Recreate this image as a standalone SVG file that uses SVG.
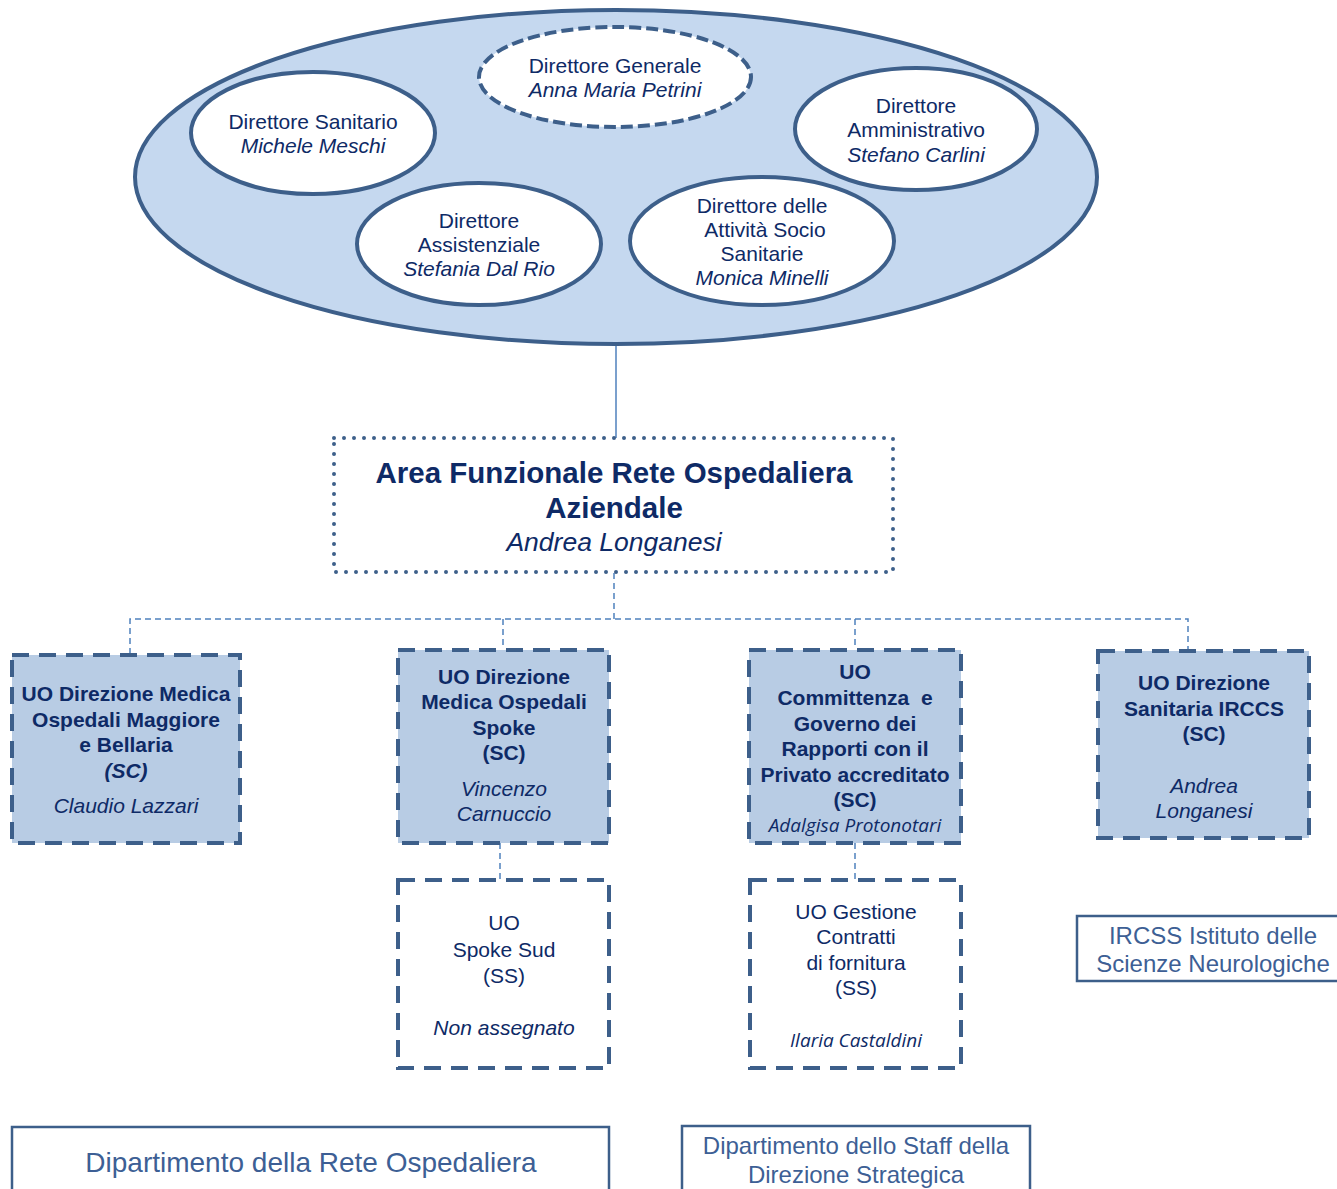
<svg xmlns="http://www.w3.org/2000/svg" width="1337" height="1189" viewBox="0 0 1337 1189">
<style>
.t{font-family:"Liberation Sans",Arial,sans-serif;fill:#0e2a66;text-anchor:middle}
.s19{font-size:21px}
.b{font-weight:bold}
.i{font-style:italic}
.c{font-family:"Open Sans","Liberation Sans",sans-serif;font-style:italic;font-size:19px}
.wh{fill:#ffffff;stroke:#3d5f8a;stroke-width:4}
.uo{fill:#b8cce4;stroke:#3d5f8a;stroke-width:4;stroke-dasharray:17 10}
.sub{fill:#ffffff;stroke:#3d5f8a;stroke-width:4;stroke-dasharray:17 10}
.con{fill:none;stroke:#4f81bd;stroke-width:1.5;stroke-dasharray:6 4}
.lab{fill:#ffffff;stroke:#3d5f8a;stroke-width:2.5}
.lt{font-family:"Liberation Sans",Arial,sans-serif;fill:#3d5f95;text-anchor:middle}
</style>
<rect width="1337" height="1189" fill="#ffffff"/>
<g id="connectors">
<line x1="616" y1="345" x2="616" y2="438" stroke="#4f81bd" stroke-width="1.5"/>
<path class="con" d="M614 573 V619 M130 654 V619 H1188 V650 M503 619 V649 M855 619 V649"/>
<path class="con" d="M500 843 V880 M855 843 V880"/>
</g>
<g id="direzione-strategica">
<ellipse cx="616" cy="177" rx="481" ry="167" fill="#c5d8ef" stroke="#3d5f8a" stroke-width="4"/>
</g>
<g id="direttore-generale">
<ellipse cx="615" cy="77" rx="136" ry="50" fill="#ffffff" stroke="#3d5f8a" stroke-width="4" stroke-dasharray="12 5"/>
<text class="t s19" x="615" y="73">Direttore Generale</text>
<text class="t s19 i" x="615" y="97">Anna Maria Petrini</text>
</g>
<g id="direttore-sanitario">
<ellipse class="wh" cx="313" cy="133" rx="122" ry="61"/>
<text class="t s19" x="313" y="129">Direttore Sanitario</text>
<text class="t s19 i" x="313" y="153">Michele Meschi</text>
</g>
<g id="direttore-amministrativo">
<ellipse class="wh" cx="916" cy="129" rx="121" ry="61"/>
<text class="t s19" x="916" y="113">Direttore</text>
<text class="t s19" x="916" y="137">Amministrativo</text>
<text class="t s19 i" x="916" y="162">Stefano Carlini</text>
</g>
<g id="direttore-assistenziale">
<ellipse class="wh" cx="479" cy="244" rx="122" ry="61"/>
<text class="t s19" x="479" y="228">Direttore</text>
<text class="t s19" x="479" y="252">Assistenziale</text>
<text class="t s19 i" x="479" y="276">Stefania Dal Rio</text>
</g>
<g id="direttore-socio-sanitarie">
<ellipse class="wh" cx="762" cy="241" rx="132" ry="64"/>
<text class="t s19" x="762" y="213">Direttore delle</text>
<text class="t s19" x="765" y="237">Attività Socio</text>
<text class="t s19" x="762" y="261">Sanitarie</text>
<text class="t s19 i" x="762" y="285">Monica Minelli</text>
</g>
<g id="area-funzionale">
<rect x="334" y="438" width="559" height="134" fill="#ffffff" stroke="#3d5f8a" stroke-width="4" stroke-dasharray="0 10" stroke-linecap="round"/>
<text class="t b" x="614" y="483" font-size="29.5">Area Funzionale Rete Ospedaliera</text>
<text class="t b" x="614" y="518" font-size="29.5">Aziendale</text>
<text class="t i" x="614" y="551" font-size="26.5">Andrea Longanesi</text>
</g>
<g id="uo-maggiore-bellaria">
<rect class="uo" x="12" y="655" width="228" height="188"/>
<text class="t s19 b" x="126" y="701">UO Direzione Medica</text>
<text class="t s19 b" x="126" y="727">Ospedali Maggiore</text>
<text class="t s19 b" x="126" y="752">e Bellaria</text>
<text class="t s19 b i" x="126" y="778">(SC)</text>
<text class="t s19 i" x="126" y="813">Claudio Lazzari</text>
</g>
<g id="uo-spoke">
<rect class="uo" x="398" y="650" width="211" height="193"/>
<text class="t s19 b" x="504" y="684">UO Direzione</text>
<text class="t s19 b" x="504" y="709">Medica Ospedali</text>
<text class="t s19 b" x="504" y="735">Spoke</text>
<text class="t s19 b" x="504" y="760">(SC)</text>
<text class="t s19 i" x="504" y="796">Vincenzo</text>
<text class="t s19 i" x="504" y="821">Carnuccio</text>
</g>
<g id="uo-committenza">
<rect class="uo" x="749" y="650" width="212" height="193"/>
<text class="t s19 b" x="855" y="679">UO</text>
<text class="t s19 b" x="855" y="705" xml:space="preserve">Committenza  e</text>
<text class="t s19 b" x="855" y="731">Governo dei</text>
<text class="t s19 b" x="855" y="756">Rapporti con il</text>
<text class="t s19 b" x="855" y="782">Privato accreditato</text>
<text class="t s19 b" x="855" y="807">(SC)</text>
<text class="t c" x="855" y="832">Adalgisa Protonotari</text>
</g>
<g id="uo-irccs">
<rect class="uo" x="1098" y="651" width="211" height="187"/>
<text class="t s19 b" x="1204" y="690">UO Direzione</text>
<text class="t s19 b" x="1204" y="716">Sanitaria IRCCS</text>
<text class="t s19 b" x="1204" y="741">(SC)</text>
<text class="t s19 i" x="1204" y="793">Andrea</text>
<text class="t s19 i" x="1204" y="818">Longanesi</text>
</g>
<g id="uo-spoke-sud">
<rect class="sub" x="398" y="880" width="211" height="188"/>
<text class="t s19" x="504" y="930">UO</text>
<text class="t s19" x="504" y="957">Spoke Sud</text>
<text class="t s19" x="504" y="983">(SS)</text>
<text class="t s19 i" x="504" y="1035">Non assegnato</text>
</g>
<g id="uo-gestione-contratti">
<rect class="sub" x="750" y="880" width="211" height="188"/>
<text class="t s19" x="856" y="919">UO Gestione</text>
<text class="t s19" x="856" y="944">Contratti</text>
<text class="t s19" x="856" y="970">di fornitura</text>
<text class="t s19" x="856" y="995">(SS)</text>
<text class="t c" x="856" y="1047">Ilaria Castaldini</text>
</g>
<g id="label-irccs">
<rect class="lab" x="1077" y="916" width="264" height="65"/>
<text class="lt" x="1213" y="944" font-size="24">IRCSS Istituto delle</text>
<text class="lt" x="1213" y="972" font-size="24">Scienze Neurologiche</text>
</g>
<g id="label-dip-rete">
<rect class="lab" x="12" y="1127" width="597" height="70"/>
<text class="lt" x="311" y="1172" font-size="28">Dipartimento della Rete Ospedaliera</text>
</g>
<g id="label-dip-staff">
<rect class="lab" x="682" y="1126" width="348" height="70"/>
<text class="lt" x="856" y="1154" font-size="24">Dipartimento dello Staff della</text>
<text class="lt" x="856" y="1183" font-size="24">Direzione Strategica</text>
</g>
</svg>
